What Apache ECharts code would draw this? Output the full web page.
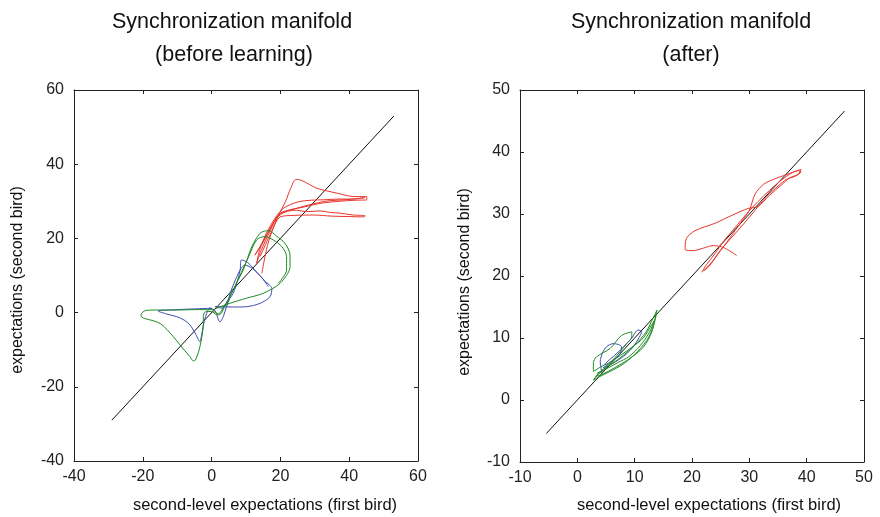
<!DOCTYPE html>
<html><head><meta charset="utf-8">
<script src="https://cdn.jsdelivr.net/npm/echarts@6/dist/echarts.min.js"></script>
<style>html,body{margin:0;padding:0;background:#fff}#c{width:880px;height:517px}</style>
</head><body><div id="c"></div>
<script>
// ---- tick labels ----
const leftTicks = [-40, -20, 0, 20, 40, 60];
const rightTicks = [-10, 0, 10, 20, 30, 40, 50];

// ---- texts ----
const leftTitle = ['Synchronization manifold', '(before learning)'];
const rightTitle = ['Synchronization manifold', '(after)'];
const xName = 'second-level expectations (first bird)';
const yName = 'expectations (second bird)';

// ---- left panel (before learning) ----
const leftDiag = [[-29, -29], [53, 53]];
const leftBlue = [[0,1.2],[-5,1.0],[-10,0.8],[-15.5,0.4],[-13,-0.4],[-10.1,-1.1],[-8,-2],[-6.3,-3.3],[-4.8,-5.5],[-3.4,-7.8],[-2.9,-6],[-2.4,-3.5],[-1.9,-1.5],[-0.5,1.2],[1,0.5],[2.4,-2.5],[3.4,-1.1],[4.3,1.5],[5.3,3.8],[6.3,5.2],[7.5,8.5],[8.3,11.5],[8.7,14.2],[10.5,13.5],[13,11],[15.5,8.5],[17.5,6.5],[17,4.3],[14.1,2.5],[10.2,1.6],[6,1.5],[2.4,1.6],[1,1.6],[3,1.2],[4.5,2.5],[5.5,5.5],[7,9],[8.5,11.8],[9.7,12.8],[12,11.8],[14.5,9.5],[16.5,7]];
const leftGreen = [[0.5,0.8],[-5,0.8],[-10,0.7],[-15,0.7],[-19,0.6],[-20.5,-0.5],[-20.5,-1],[-15,-2.9],[-11.1,-6.5],[-9.2,-8.7],[-6.3,-11.9],[-5.3,-13],[-4.7,-12.8],[-3.4,-9.2],[-2.4,-2.9],[-2.4,-1.1],[-1.9,0.2],[0,0.3],[1.5,-0.6],[2.6,-0.4],[4,2],[5.3,4.3],[7.2,7.9],[9.2,11.5],[10.5,14.8],[11.7,17.8],[13,20],[14.4,21.6],[16.5,22.1],[18.9,20.6],[21.3,18.7],[22.8,15.5],[22.8,12.4],[19.9,7.9],[15,5.2],[10.2,3.9],[5.3,2.5],[1.5,1.2],[0.5,0.5],[2,-0.3],[3.5,1.5],[6,5.5],[8,9.5],[10.5,14.5],[13.1,19.6],[15.5,20.5],[17.9,19.6],[20.4,17.8],[21.8,15.1],[21.8,11.5],[19.4,7.9]];
const leftRed = [[14.6,10.6],[15.5,15],[16.5,19],[18,23],[19.5,26.3],[21.5,30],[23,33.5],[24.5,35.9],[26,35.7],[28.5,34.5],[30.6,33.5],[33.5,32.8],[36.4,32.2],[41.2,31.3],[45.1,31.3],[45.1,30.4],[42,30.3],[37,30],[32,29.5],[27,28.5],[22,27.5],[19.5,26.5],[17,22],[14.5,17],[13.1,13.3],[14,17],[16,21.5],[18.5,25.5],[21,28.2],[25,29.8],[29,30.3],[32.5,30.4],[37,30.6],[41.2,30.6],[44.5,31],[40,30.5],[33,30],[25,28.2],[20,26.6],[17.5,23.5],[15,19],[12.6,15.5],[14.5,18.5],[17,22.5],[19.5,26],[22,27.3],[24.7,27.6],[27.5,27.2],[31.5,27.4],[34.5,27],[37.3,26.8],[41.2,26.3],[44.6,26.1],[44.4,25.8],[39.3,25.9],[35,26],[29.6,26.3],[24,26.2],[20,25.8],[17,21],[14.1,15.1]];

// ---- right panel (after) ----
const rightDiag = [[-5.4, -5.4], [46.6, 46.6]];
const rightBlue = [[4.3,4.3],[4,6.2],[4.4,7.6],[5.1,8.6],[6.3,9.1],[7.7,8.6],[7.5,7.5],[6.5,6.6],[5,5.5],[4.5,5.2],[6,5.8],[8,7],[9.5,8.3],[10.6,9.8],[11.2,11],[10.6,11.3],[9.5,10],[8,8.5],[6.5,7.2],[5,6],[4.5,5.5]];
const rightGreen = [[3.4,4.3],[5,5],[7,6],[9,7],[11,8.8],[12.5,10.8],[13.5,13],[13.9,14.5],[13.2,13.2],[12,11],[10,8.8],[8,7.2],[6,5.8],[4,4.6],[2.8,3.2],[3.5,3.6],[5.5,4.5],[8,5.8],[10.5,7.8],[12.5,10.2],[13.5,12.8],[13,12.2],[11.5,10],[9.5,8.5],[7.5,7.2],[5.5,6],[4,5.3],[2.8,4.6],[2.8,6],[3.4,7],[5.7,8.3],[7.7,10.4],[9.5,11],[9.5,10.2],[8.5,9],[7,7.3],[5,5.2],[3.2,3.8],[4.5,4.2],[6.5,5.2],[9,6.6],[11.5,8.5],[13,11],[13.8,14]];
const rightRed = [[21.7,20.6],[22.5,21.8],[24,23.6],[25.5,25.6],[27.5,27.8],[29.5,30],[31.5,32],[33.5,33.8],[35.5,35.4],[37,36.4],[38.5,37],[39,36.8],[38,36.1],[36.5,35.6],[35,34.5],[33,32.8],[31,30.6],[29,28.4],[27,26.3],[25,24.2],[23.5,22.3],[22,20.8],[23,21.6],[24.5,23.5],[26.5,26],[28.5,28.6],[30,30.6],[31,33.2],[32.5,34.8],[34.5,35.7],[36,36.2],[37.5,36.7],[39,37.2],[38.5,36.4],[37,35.8],[35.5,34.6],[33.5,33],[31.5,31.2],[29.8,30.9],[27,29.8],[24,28.5],[20.5,27.3],[19,26],[18.8,24.3],[20.2,24.1],[22,24.5],[23.7,24.9],[25.5,24.6],[27.8,23.3]];

const RED = '#e8352b', BLUE = '#3d4fb5', GREEN = '#1f8a22', BLACK = '#111';
const FONT = "'Liberation Sans', Arial, sans-serif";
const AX = '#222';

function axisPair(ticks, isX, gridIndex) {
  const min = ticks[0], max = ticks[ticks.length - 1], interval = ticks[1] - ticks[0];
  const base = {
    type: 'value', gridIndex, min, max, interval,
    splitLine: { show: false },
    axisLine: { show: true, onZero: false, lineStyle: { color: AX, width: 1 } },
    axisTick: { show: true, inside: true, length: 4, lineStyle: { color: AX } }
  };
  const main = Object.assign({}, base, {
    position: isX ? 'bottom' : 'left',
    axisLabel: { show: true, color: '#222', fontFamily: FONT, fontSize: 16, margin: isX ? 8 : 10 }
  });
  const mirror = Object.assign({}, base, {
    position: isX ? 'top' : 'right',
    axisLabel: { show: false }
  });
  return [main, mirror];
}

function line(data, color, xi, yi, smooth) {
  return { type: 'line', data, xAxisIndex: xi, yAxisIndex: yi, showSymbol: false, symbol: 'none',
    smooth: smooth, lineStyle: { color, width: 1 }, silent: true };
}

function txt(text, x, y, size, rot) {
  return { type: 'text', x, y, rotation: rot || 0,
    style: { text, fill: '#111', font: size + 'px ' + FONT, textAlign: 'center', textVerticalAlign: 'middle' } };
}

const chart = echarts.init(document.getElementById('c'), null, { renderer: 'canvas' });
chart.setOption({
  animation: false,
  backgroundColor: '#fff',
  grid: [
    { left: 74, top: 90, width: 344, height: 371 },
    { left: 520, top: 90, width: 344, height: 372 }
  ],
  xAxis: [...axisPair(leftTicks, true, 0), ...axisPair(rightTicks, true, 1)],
  yAxis: [...axisPair(leftTicks, false, 0), ...axisPair(rightTicks, false, 1)],
  series: [
    line(leftDiag, BLACK, 0, 0, false),
    line(leftRed, RED, 0, 0, 0.3),
    line(leftBlue, BLUE, 0, 0, 0.3),
    line(leftGreen, GREEN, 0, 0, 0.3),
    line(rightDiag, BLACK, 2, 2, false),
    line(rightRed, RED, 2, 2, 0.3),
    line(rightBlue, BLUE, 2, 2, 0.3),
    line(rightGreen, GREEN, 2, 2, 0.3)
  ],
  graphic: [
    txt(leftTitle[0], 232, 22, 21.5),
    txt(leftTitle[1], 234, 55, 21.5),
    txt(rightTitle[0], 691, 22, 21.5),
    txt(rightTitle[1], 691, 55, 21.5),
    txt(xName, 265, 505, 16.5),
    txt(xName, 709, 505, 16.5),
    txt(yName, 18, 280, 16, Math.PI / 2),
    txt(yName, 465, 282, 16, Math.PI / 2)
  ]
});
</script></body></html>
